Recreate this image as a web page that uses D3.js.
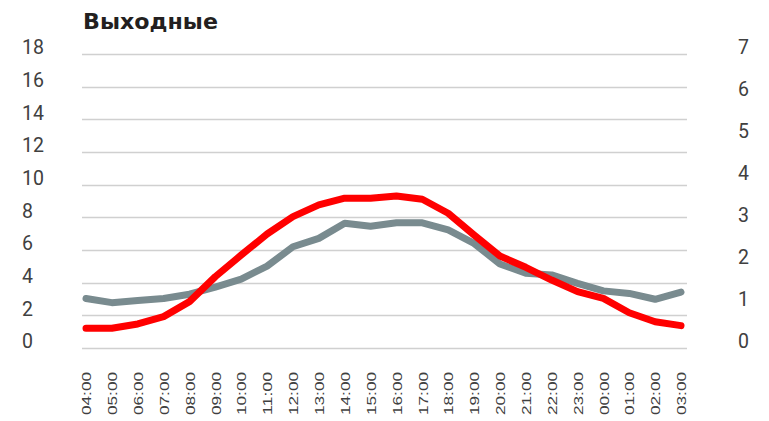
<!DOCTYPE html>
<html>
<head>
<meta charset="utf-8">
<script src="https://cdn.jsdelivr.net/npm/d3@7"></script>
<style>
  html, body { margin: 0; padding: 0; background: #fff; }
  svg { display: block; }
</style>
</head>
<body>
<div id="chart"></div>
<script>
// hours on the x axis
var hours = ["04:00","05:00","06:00","07:00","08:00","09:00","10:00","11:00","12:00","13:00","14:00","15:00",
             "16:00","17:00","18:00","19:00","20:00","21:00","22:00","23:00","00:00","01:00","02:00","03:00"];
// red series, left axis
var redValues = [1.21,1.21,1.47,1.92,2.84,4.37,5.69,6.98,8.04,8.76,9.17,9.17,
                 9.31,9.11,8.25,6.92,5.63,4.94,4.16,3.45,3.04,2.16,1.61,1.37];
// grey series, right axis
var greyValues = [1.18,1.08,1.13,1.18,1.28,1.45,1.64,1.95,2.41,2.61,2.97,2.90,
                  2.98,2.98,2.81,2.49,2.00,1.78,1.74,1.54,1.36,1.30,1.16,1.33];
var leftTicks = [0,2,4,6,8,10,12,14,16,18];
var rightTicks = [0,1,2,3,4,5,6,7];
var title = "Выходные";

var width = 769, height = 421;
var svg = d3.select("#chart").append("svg")
  .attr("width", width).attr("height", height);

var x = d3.scalePoint().domain(hours).range([86, 681]);
var yLeft = d3.scaleLinear().domain([0, 18]).range([348, 54]);
var yRight = d3.scaleLinear().domain([0, 7]).range([348, 54]);

//gridlines
svg.append("g").selectAll("line").data(leftTicks).enter().append("line")
  .attr("x1", 82).attr("x2", 687)
  .attr("y1", function(d){ return Math.round(yLeft(d)) + 0.5; })
  .attr("y2", function(d){ return Math.round(yLeft(d)) + 0.5; })
  .style("stroke", "#d0d0d0").style("stroke-width", 1.3);

var labelFont = "Roboto, sans-serif";

svg.append("g").selectAll("text").data(leftTicks).enter().append("text")
  .attr("x", 22)
  .attr("y", function(d){ return yLeft(d) - 6.5; })
  .attr("dy", "0.35em")
  .style("font-family", labelFont).style("font-size", "19.5px").style("fill", "#404040")
  .text(function(d){ return d; });

svg.append("g").selectAll("text").data(rightTicks).enter().append("text")
  .attr("x", 738)
  .attr("y", function(d){ return yRight(d) - 6.5; })
  .attr("dy", "0.35em")
  .style("font-family", labelFont).style("font-size", "19.5px").style("fill", "#404040")
  .text(function(d){ return d; });

//x labels, rotated
svg.append("g").selectAll("text").data(hours).enter().append("text")
  .attr("transform", function(d){ return "translate(" + (x(d) + 0.5) + ",372) rotate(-90)"; })
  .attr("text-anchor", "end")
  .attr("dy", "0.35em")
  .attr("textLength", 43).attr("lengthAdjust", "spacingAndGlyphs")
  .style("font-family", "'Liberation Sans', Arial, sans-serif").style("font-size", "13.5px").style("fill", "#404040")
  .text(function(d){ return d; });

//title
svg.append("text")
  .attr("x", 83).attr("y", 29)
  .attr("textLength", 135).attr("lengthAdjust", "spacingAndGlyphs")
  .style("font-family", "'DejaVu Sans', sans-serif").style("font-weight", "bold").style("font-size", "22px")
  .style("fill", "#231f20")
  .text(title);

var greyLine = d3.line()
  .x(function(d, i){ return x(hours[i]); })
  .y(function(d){ return yRight(d); });
var redLine = d3.line()
  .x(function(d, i){ return x(hours[i]); })
  .y(function(d){ return yLeft(d); });

svg.append("path").datum(greyValues)
  .attr("d", greyLine)
  .style("fill", "none").style("stroke", "#798b8f").style("stroke-width", 7)
  .style("stroke-linejoin", "round").style("stroke-linecap", "round");

svg.append("path").datum(redValues)
  .attr("d", redLine)
  .style("fill", "none").style("stroke", "#ff0000").style("stroke-width", 7)
  .style("stroke-linejoin", "round").style("stroke-linecap", "round");
</script>
</body>
</html>
